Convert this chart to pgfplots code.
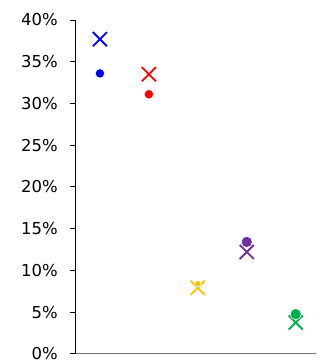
\documentclass[border=0pt]{standalone}
\usepackage{pgfplots}
\pgfplotsset{compat=1.18}
\usepackage{fontspec}
\setmainfont{DejaVu Sans}
\definecolor{cBlue}{RGB}{0,0,255}
\definecolor{cRed}{RGB}{255,0,0}
\definecolor{cYellow}{RGB}{255,192,0}
\definecolor{cPurple}{RGB}{112,48,160}
\definecolor{cGreen}{RGB}{0,176,80}
\begin{document}
\begin{tikzpicture}[x=1bp,y=1bp]
\begin{axis}[
  scale only axis,
  width=241bp, height=334bp,
  xmin=0.49, xmax=5.41,
  ymin=0, ymax=40,
  axis x line=bottom, axis y line=left,
  axis line style={-},
  x axis line style={draw=black!55, line width=1.2bp},
  y axis line style={draw=black, line width=0.8bp},
  xtick=\empty,
  ytick={0,5,...,40},
  yticklabel={\pgfmathprintnumber{\tick}\%},
  tick align=outside,
  major tick length=5bp,
  ytick style={draw=black, line width=0.8bp},
  yticklabel style={font=\fontsize{16.5}{16.5}\selectfont, inner sep=0pt, xshift=-12bp},
  /pgf/number format/assume math mode=true,
  clip=false,
]
\path (rel axis cs:-0.3112,-0.018) rectangle (rel axis cs:1.0415,1.0599);
% X markers
\addplot[only marks, mark=x, mark size=10bp, line width=1.8bp, color=cBlue] coordinates {(1,37.7)};
\addplot[only marks, mark=x, mark size=10bp, line width=1.8bp, color=cRed] coordinates {(2,33.5)};
\addplot[only marks, mark=x, mark size=10bp, line width=1.8bp, color=cYellow] coordinates {(3,7.9)};
\addplot[only marks, mark=x, mark size=10bp, line width=1.8bp, color=cPurple] coordinates {(4,12.2)};
\addplot[only marks, mark=x, mark size=10bp, line width=1.8bp, color=cGreen] coordinates {(5,3.75)};
% dots
\addplot[only marks, mark=*, mark size=4.7bp, mark options={fill=cBlue, draw=white, line width=0.6bp}] coordinates {(1,33.6)};
\addplot[only marks, mark=*, mark size=4.7bp, mark options={fill=cRed, draw=white, line width=0.6bp}] coordinates {(2,31.1)};
\addplot[only marks, mark=*, mark size=3.2bp, mark options={fill=cYellow, draw=white, line width=0.6bp}] coordinates {(3,8.4)};
\addplot[only marks, mark=*, mark size=5.6bp, mark options={fill=cPurple, draw=white, line width=0.6bp}] coordinates {(4,13.4)};
\addplot[only marks, mark=*, mark size=5.6bp, mark options={fill=cGreen, draw=white, line width=0.6bp}] coordinates {(5,4.75)};
\end{axis}
\end{tikzpicture}
\end{document}
